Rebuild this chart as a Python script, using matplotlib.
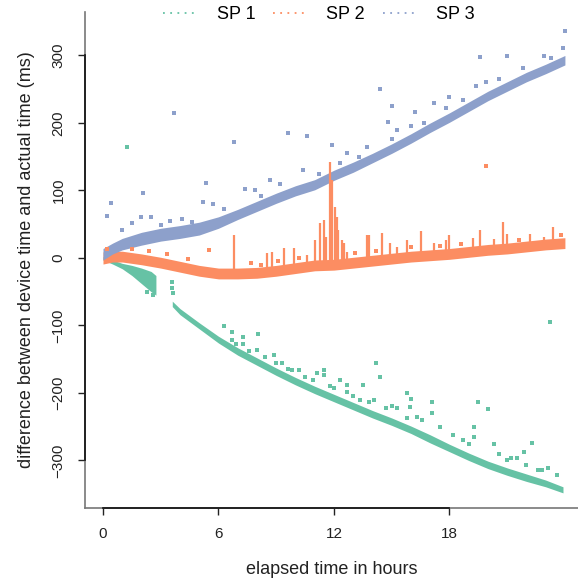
import matplotlib
matplotlib.use("Agg")
import matplotlib.pyplot as plt
import numpy as np

plt.rcParams["font.family"] = ["Liberation Sans", "DejaVu Sans"]

GREEN = "#66C2A5"
ORANGE = "#FC8D62"
BLUE = "#8DA0CB"

# SP 1: two segments (gap around 3 h)
sp1_hours_a = [0, 0.5, 1.0, 1.5, 2.0, 2.5, 2.75]
sp1_low_a = [-3, -9, -16, -26, -38, -50, -55]
sp1_high_a = [2, -3, -8, -11, -15, -20, -26]

sp1_hours_b = [3.6, 4, 5, 6, 7, 8, 9, 10, 11, 12, 13, 14, 15, 16, 17, 18,
               19, 20, 21, 22, 23, 23.9]
sp1_low_b = [-72, -84, -105, -126, -144, -159, -174, -188, -201, -213, -225,
             -237, -248, -260, -274, -287, -300, -312, -322, -331, -339, -348]
sp1_high_b = [-64, -75, -96, -116, -133, -148, -163, -177, -190, -202, -214,
              -226, -237, -249, -262, -276, -289, -301, -311, -320, -329, -339]

sp1_out_h = [1.25, 3.6, 3.6, 3.65, 6.3, 6.7, 6.7, 7.3, 7.3, 8.05, 8.0, 8.9, 9.3,
             9.8, 10.2, 11.5, 11.5, 11.1, 12.3, 12.7, 12.7, 14.2, 14.4, 13.5,
             13.35, 14.1, 15.0, 15.3, 15.8, 16.0, 15.95, 17.1, 17.1, 15.8, 16.3,
             19.5, 20.0, 19.3, 19.3, 18.7, 20.3, 22.3, 21.9, 21.2, 23.1, 23.6,
             22.6, 21.5, 23.2, 2.6, 2.3, 6.9, 7.6, 8.4, 9.0, 9.6, 10.5, 10.9,
             11.8, 12.0, 13.0, 13.8, 14.7, 16.6, 17.5, 18.2, 19.0, 20.6, 21.0,
             22.0, 22.8]
sp1_out_v = [164, -36, -44, -52, -101, -110, -122, -117, -128, -112, -136, -144,
             -156, -166, -166, -166, -174, -171, -181, -188, -198, -156, -176,
             -188, -210, -210, -220, -222, -200, -209, -221, -213, -230, -237,
             -235, -213, -223, -250, -265, -270, -276, -274, -287, -296, -311,
             -321, -314, -296, -95, -55, -50, -128, -138, -146, -155, -164,
             -176, -181, -190, -193, -205, -214, -222, -240, -250, -262, -276,
             -290, -300, -306, -314]

# SP 2
sp2_hours = [0, 0.5, 1, 2, 3, 4, 5, 6, 7, 8, 9, 10, 11, 12, 13, 14, 15, 16,
             17, 18, 19, 20, 21, 22, 23, 24]
sp2_low = [-9, -6, -6, -10, -15, -21, -27, -31, -31, -30, -27, -23, -19, -18,
           -15, -12, -9, -6, -4, -2, 1, 4, 6, 9, 12, 14]
sp2_high = [9, 10, 10, 6, 1, -5, -11, -15, -15, -14, -11, -7, -3, -2, 1, 4, 7,
            10, 12, 14, 17, 20, 22, 25, 28, 30]
sp2_mid = [0, 2, 2, -2, -7, -13, -19, -23, -23, -22, -19, -15, -11, -10, -7,
           -4, -1, 2, 4, 6, 9, 12, 14, 17, 20, 22]

sp2_spike_h = [6.8, 8.5, 8.8, 9.4, 9.9, 10.6, 11.0, 11.3, 11.5, 11.6, 11.8,
               11.9, 12.05, 12.15, 12.2, 12.4, 12.5, 12.7, 13.7, 13.8, 14.5,
               14.9, 15.3, 15.8, 16.5, 17.2, 17.8, 18.0, 19.2, 19.6, 20.3,
               20.8, 21.0, 22.2, 22.9, 23.4]
sp2_spike_top = [34, 8, 9, 15, 15, 4, 27, 52, 56, 31, 142, 115, 75, 61, 42, 27,
                 22, 9, 34, 34, 37, 22, 16, 27, 40, 22, 27, 34, 30, 41, 28, 53,
                 36, 36, 31, 46]
sp2_out_h = [5.5, 19.9, 0.2, 1.5, 2.4, 3.3, 4.4, 7.7, 8.2, 9.1, 10.2, 13.1,
             14.2, 16.0, 17.5, 18.6, 21.6, 23.8]
sp2_out_v = [12, 136, 14, 14, 10, 6, -2, -8, -10, -4, 0, 8, 10, 16, 18, 20,
             27, 34]

# SP 3
sp3_hours = [0, 0.5, 1, 2, 3, 4, 5, 6, 7, 8, 9, 10, 11, 12, 13, 14, 15, 16,
             17, 18, 19, 20, 21, 22, 23, 24]
sp3_low = [-3, 6, 12, 19, 25, 29, 34, 44, 57, 69, 81, 92, 101, 115, 127, 141,
           155, 170, 186, 201, 217, 233, 247, 261, 273, 286]
sp3_high = [14, 22, 29, 38, 44, 48, 53, 61, 72, 84, 96, 107, 116, 130, 142,
            155, 169, 184, 200, 215, 231, 247, 261, 275, 287, 300]

sp3_out_h = [5.35, 2.1, 0.4, 5.2, 5.7, 0.2, 2.0, 2.5, 1.5, 3.0, 4.6, 9.6, 10.6,
             6.8, 11.9, 12.7, 8.7, 7.4, 7.9, 10.4, 9.2, 14.4, 18.0, 15.0, 17.2,
             16.2, 14.8, 15.3, 16.0, 15.0, 13.7, 24.0, 23.9, 19.6, 21.0, 22.9,
             19.9, 20.6, 19.4, 18.7, 3.7, 1.0, 3.5, 4.1, 6.3, 8.2, 11.2, 12.3,
             13.3, 16.7, 17.8, 21.8, 23.3]
sp3_out_v = [111, 96, 81, 83, 80, 62, 61, 61, 52, 49, 53, 185, 181, 172, 167,
             155, 116, 102, 100, 130, 110, 250, 238, 225, 230, 216, 201, 190,
             196, 176, 164, 336, 311, 298, 299, 299, 261, 265, 255, 234, 215,
             42, 55, 58, 72, 92, 124, 140, 150, 200, 222, 281, 296]

x_ticks = [0, 6, 12, 18]
y_ticks = [-300, -200, -100, 0, 100, 200, 300]
labels = ["SP 1", "SP 2", "SP 3"]

fig = plt.figure(figsize=(5.78, 5.79), dpi=100)
ax = fig.add_axes([85 / 578, 71 / 579, 493 / 578, 496 / 579])

# bands
ax.fill_between(sp1_hours_a, sp1_low_a, sp1_high_a, color=GREEN, lw=0)
ax.fill_between(sp1_hours_b, sp1_low_b, sp1_high_b, color=GREEN, lw=0)

ax.fill_between(sp2_hours, sp2_low, sp2_high, color=ORANGE, lw=0)
ax.vlines(sp2_spike_h, np.interp(sp2_spike_h, sp2_hours, sp2_mid), sp2_spike_top,
          color=ORANGE, lw=1.6)

ax.fill_between(sp3_hours, sp3_low, sp3_high, color=BLUE, lw=0)

# scattered outliers
ax.plot(sp1_out_h, sp1_out_v, "s", color=GREEN, ms=2.2, mew=0)
ax.plot(sp2_out_h, sp2_out_v, "s", color=ORANGE, ms=2.2, mew=0)
ax.plot(sp3_out_h, sp3_out_v, "s", color=BLUE, ms=2.2, mew=0)

ax.set_xlim(-0.935, 24.68)
ax.set_ylim(-370.4, 364.4)

for s in ["top", "right"]:
    ax.spines[s].set_visible(False)
for s in ["left", "bottom"]:
    ax.spines[s].set_color("#777777")
    ax.spines[s].set_linewidth(1.2)

ax.set_xticks(x_ticks)
ax.set_yticks(y_ticks)
ax.tick_params(direction="out", length=5, width=1.0, color="#222222",
               labelsize=11, labelcolor="#222222", pad=9)
for lab in ax.get_yticklabels():
    lab.set_rotation(90)
    lab.set_va("center")

# black axis lines between first and last tick (R style)
ax.plot([x_ticks[0], x_ticks[-1]], [-370.4, -370.4], color="#111111", lw=1.2,
        clip_on=False, zorder=5)
ax.plot([-0.935, -0.935], [y_ticks[0], y_ticks[-1]], color="#111111", lw=1.2,
        clip_on=False, zorder=5)

ax.set_xlabel("elapsed time in hours", fontsize=13, color="#222222", labelpad=14)
ax.set_ylabel("difference between device time and actual time (ms)", fontsize=13,
              color="#222222", labelpad=12)

handles = [plt.Line2D([], [], color=c, ls=(0, (1, 3)), lw=1.3)
           for c in (GREEN, ORANGE, BLUE)]
ax.legend(handles, labels, loc="upper center", bbox_to_anchor=(0.475, 1.045),
          ncol=3, frameon=False, fontsize=13, handlelength=1.8,
          columnspacing=1.0, handletextpad=1.15)

fig.savefig("out.png", dpi=100)
